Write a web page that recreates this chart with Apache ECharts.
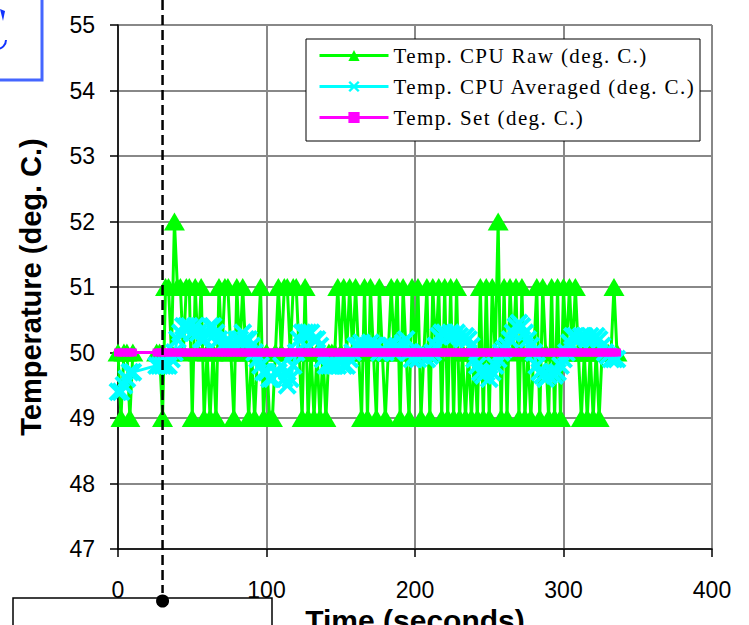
<!DOCTYPE html>
<html>
<head>
<meta charset="utf-8">
<script src="https://cdn.jsdelivr.net/npm/echarts@6/dist/echarts.min.js"></script>
<style>
  html, body { margin: 0; padding: 0; background: #fff; }
  #chart { width: 749px; height: 625px; }
  /* legend text in the original is a widely spaced serif */
  #chart text[style*="Serif"] { letter-spacing: 1.4px; }
</style>
</head>
<body>
<div id="chart"></div>
<script>
// sample times (seconds)
const times = [
  0, 2, 4, 6, 8, 10,
  26, 28, 30, 32, 34, 36, 38, 40, 42, 44,
  46, 48, 50, 52, 54, 56, 58, 60, 62, 64,
  66, 68, 70, 72, 74, 76, 78, 80, 82, 84,
  86, 88, 90, 92, 94, 96, 98, 100, 102, 104,
  106, 108, 110, 112, 114, 116, 118, 120, 122, 124,
  126, 128, 130, 132, 134, 136, 138, 140, 142, 144,
  146, 148, 150, 152, 154, 156, 158, 160, 162, 164,
  166, 168, 170, 172, 174, 176, 178, 180, 182, 184,
  186, 188, 190, 192, 194, 196, 198, 200, 202, 204,
  206, 208, 210, 212, 214, 216, 218, 220, 222, 224,
  226, 228, 230, 232, 234, 236, 238, 240, 242, 244,
  246, 248, 250, 252, 254, 256, 258, 260, 262, 264,
  266, 268, 270, 272, 274, 276, 278, 280, 282, 284,
  286, 288, 290, 292, 294, 296, 298, 300, 302, 304,
  306, 308, 310, 312, 314, 316, 318, 320, 322, 324,
  326, 328, 330, 332, 334, 336
];

const rawTemp = [
  50, 49, 50, 50, 49, 50,
  50, 50, 49, 51, 51, 50, 52, 51, 51, 50,
  51, 51, 49, 51, 50, 51, 49, 50, 49, 50,
  49, 51, 50, 51, 51, 50, 49, 51, 50, 51,
  50, 49, 50, 49, 50, 51, 49, 50, 49, 49,
  50, 51, 50, 51, 51, 50, 51, 51, 50, 49,
  51, 49, 50, 49, 50, 49, 50, 49, 50, 50,
  50, 51, 50, 51, 50, 51, 50, 51, 50, 49,
  51, 49, 51, 50, 49, 51, 50, 49, 50, 51,
  50, 51, 49, 51, 50, 49, 51, 50, 51, 49,
  50, 51, 49, 51, 50, 51, 49, 51, 49, 51,
  49, 51, 49, 50, 49, 50, 49, 50, 49, 51,
  49, 51, 49, 51, 50, 52, 49, 51, 49, 51,
  50, 51, 49, 51, 49, 50, 49, 50, 51, 49,
  51, 50, 49, 51, 49, 51, 49, 51, 50, 51,
  50, 51, 50, 49, 50, 49, 50, 49, 50, 49,
  50, 50, 50, 50, 51, 50
];

const avgTemp = [
  49.4, 49.4, 49.5, 49.6, 49.7, 49.7,
  49.8, 49.8, 49.8, 49.8, 49.8, 49.9, 50.0, 50.2, 50.3, 50.4,
  50.4, 50.4, 50.3, 50.4, 50.3, 50.2, 50.2, 50.3, 50.4, 50.4,
  50.3, 50.2, 50.1, 50.1, 50.2, 50.1, 50.1, 50.2, 50.2, 50.3,
  50.2, 50.2, 50.1, 50.0, 49.9, 49.8, 49.7, 49.7, 49.6, 49.6,
  49.7, 49.7, 49.8, 49.6, 49.5, 49.6, 49.8, 50.0, 50.2, 50.3,
  50.3, 50.3, 50.3, 50.2, 50.2, 50.1, 49.9, 49.8, 49.8, 49.8,
  49.8, 49.8, 49.9, 49.8, 49.8, 49.9, 50.0, 50.1, 50.1, 50.15,
  50.1, 50.1, 50.15, 50.1, 50.1, 50.0, 50.05, 50.0, 50.1, 50.1,
  50.0, 50.1, 50.05, 50.15, 50.2, 50.0, 49.9, 49.95, 49.9, 49.95,
  50.0, 49.9, 49.95, 50.0, 50.1, 50.25, 50.3, 50.3, 50.25, 50.3,
  50.25, 50.3, 50.25, 50.2, 50.25, 50.2, 50.1, 49.9, 49.8, 49.7,
  49.65, 49.7, 49.6, 49.7, 49.8, 49.9, 50.0, 50.05, 50.1, 50.2,
  50.3, 50.4, 50.45, 50.4, 50.3, 50.2, 50.1, 50.0, 49.8, 49.7,
  49.65, 49.6, 49.65, 49.7, 49.65, 49.7, 49.8, 49.9, 50.0, 50.15,
  50.25, 50.25, 50.2, 50.25, 50.25, 50.2, 50.25, 50.2, 50.25, 50.2,
  50.1, 50.0, 49.95, 49.9, 49.9, 49.9
];

const setTemp = [
  50, 50, 50, 50, 50, 50,
  50, 50, 50, 50, 50, 50, 50, 50, 50, 50,
  50, 50, 50, 50, 50, 50, 50, 50, 50, 50,
  50, 50, 50, 50, 50, 50, 50, 50, 50, 50,
  50, 50, 50, 50, 50, 50, 50, 50, 50, 50,
  50, 50, 50, 50, 50, 50, 50, 50, 50, 50,
  50, 50, 50, 50, 50, 50, 50, 50, 50, 50,
  50, 50, 50, 50, 50, 50, 50, 50, 50, 50,
  50, 50, 50, 50, 50, 50, 50, 50, 50, 50,
  50, 50, 50, 50, 50, 50, 50, 50, 50, 50,
  50, 50, 50, 50, 50, 50, 50, 50, 50, 50,
  50, 50, 50, 50, 50, 50, 50, 50, 50, 50,
  50, 50, 50, 50, 50, 50, 50, 50, 50, 50,
  50, 50, 50, 50, 50, 50, 50, 50, 50, 50,
  50, 50, 50, 50, 50, 50, 50, 50, 50, 50,
  50, 50, 50, 50, 50, 50, 50, 50, 50, 50,
  50, 50, 50, 50, 50, 50
];

const seriesNames = ['Temp. CPU Raw (deg. C.)', 'Temp. CPU Averaged (deg. C.)', 'Temp. Set (deg. C.)'];
const xTicks = [0, 100, 200, 300, 400];
const yTicks = [47, 48, 49, 50, 51, 52, 53, 54, 55];
const markerTime = 30; // dashed marker line

const pairs = vals => times.map((t, i) => [t, vals[i]]);

const crossSymbol = 'path://M0,3 L3,0 L10,7 L17,0 L20,3 L13,10 L20,17 L17,20 L10,13 L3,20 L0,17 L7,10 Z';
const sansFont = '"Liberation Sans", Arial, sans-serif';

const chart = echarts.init(document.getElementById('chart'), null, {renderer: 'svg'});

const option = {
  animation: false,
  backgroundColor: '#ffffff',
  grid: {left: 118, right: 37, top: 25, bottom: 76, containLabel: false, outerBoundsMode: 'none'},
  legend: {
    orient: 'vertical',
    left: 318,
    top: 45,
    padding: 0,
    itemWidth: 69,
    itemHeight: 14,
    itemGap: 10,
    z: 5,
    lineStyle: {width: 3},
    textStyle: {fontFamily: '"Liberation Serif", "Times New Roman", serif', fontSize: 21, color: '#000'},
    data: seriesNames
  },
  xAxis: {
    type: 'value',
    min: xTicks[0],
    max: xTicks[xTicks.length - 1],
    interval: xTicks[1] - xTicks[0],
    name: 'Time (seconds)',
    nameLocation: 'middle',
    nameGap: 54,
    nameTextStyle: {fontFamily: sansFont, fontSize: 30, fontWeight: 'bold', color: '#000'},
    axisLine: {onZero: false, lineStyle: {color: '#000', width: 1.5}},
    axisTick: {show: true, length: 8, lineStyle: {color: '#000', width: 1.5}},
    axisLabel: {margin: 29, fontFamily: sansFont, fontSize: 23, color: '#000'},
    splitLine: {show: true, lineStyle: {color: '#888', width: 2}}
  },
  yAxis: {
    type: 'value',
    min: yTicks[0],
    max: yTicks[yTicks.length - 1],
    interval: yTicks[1] - yTicks[0],
    name: 'Temperature (deg. C.)',
    nameLocation: 'middle',
    nameGap: 73,
    nameTextStyle: {fontFamily: sansFont, fontSize: 29, fontWeight: 'bold', color: '#000'},
    axisLine: {show: true, lineStyle: {color: '#000', width: 1.5}},
    axisTick: {show: true, length: 8, lineStyle: {color: '#000', width: 1.5}},
    axisLabel: {margin: 23, fontFamily: sansFont, fontSize: 23, color: '#000'},
    splitLine: {show: true, lineStyle: {color: '#888', width: 2}}
  },
  series: [
    {
      name: seriesNames[0],
      type: 'line',
      data: pairs(rawTemp),
      symbol: 'triangle',
      symbolSize: [21, 18],
      showAllSymbol: true,
      color: '#00ff00',
      lineStyle: {color: '#00ff00', width: 3},
      itemStyle: {color: '#00ff00'},
      z: 2
    },
    {
      name: seriesNames[1],
      type: 'line',
      data: pairs(avgTemp),
      symbol: crossSymbol,
      symbolSize: 19,
      showAllSymbol: true,
      color: '#00ffff',
      lineStyle: {color: '#00ffff', width: 3},
      itemStyle: {color: '#00ffff'},
      z: 3
    },
    {
      name: seriesNames[2],
      type: 'line',
      data: pairs(setTemp),
      symbol: 'rect',
      symbolSize: 8,
      showAllSymbol: true,
      color: '#ff00ff',
      lineStyle: {color: '#ff00ff', width: 3},
      itemStyle: {color: '#ff00ff'},
      z: 4
    }
  ]
};

chart.setOption(option);

// annotations around the plot: legend frame, dashed time marker, cropped callout boxes
const mx = chart.convertToPixel({xAxisIndex: 0}, markerTime);
chart.setOption({
  graphic: [
    {type: 'rect', z: 4, shape: {x: 306, y: 39, width: 394, height: 102},
      style: {fill: '#fff', stroke: '#000', lineWidth: 1}},
    {type: 'rect', z: 6, shape: {x: -5, y: -5, width: 47, height: 85},
      style: {fill: '#fff', stroke: '#4466ff', lineWidth: 3}},
    {type: 'polygon', z: 7, shape: {points: [[0, 9], [5, 11], [3, 21]]},
      style: {fill: '#1133ff'}},
    {type: 'arc', z: 7, shape: {cx: -3, cy: 40, r: 9, startAngle: 0, endAngle: Math.PI / 2},
      style: {stroke: '#1133ff', lineWidth: 2, fill: 'none'}},
    {type: 'line', z: 8, shape: {x1: mx, y1: 0, x2: mx, y2: 593},
      style: {stroke: '#000', lineWidth: 2.5, lineDash: [10, 5]}},
    {type: 'rect', z: 6, shape: {x: 13, y: 598, width: 259, height: 40},
      style: {fill: '#fff', stroke: '#000', lineWidth: 1.5}},
    {type: 'circle', z: 9, shape: {cx: mx, cy: 601, r: 6.5},
      style: {fill: '#000'}}
  ]
});
</script>
</body>
</html>
